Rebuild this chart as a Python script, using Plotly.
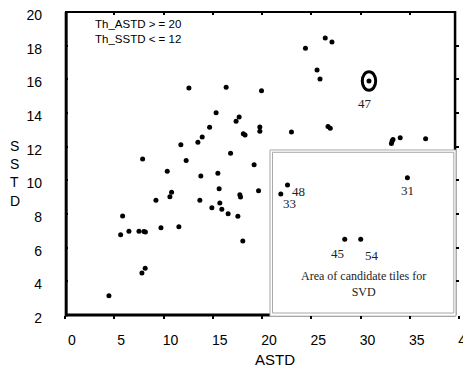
import plotly.graph_objects as go

# ---- data ----
astd = [12.58, 11.76, 7.88, 12.30, 26.42, 27.10, 24.41, 25.59, 25.89, 16.36,
        19.95, 15.34, 17.68, 17.37, 14.68, 13.93, 13.49, 18.10, 18.28, 19.78,
        19.78, 22.99, 16.81, 26.70, 26.93, 33.14, 33.21, 33.30, 34.03, 36.61,
        10.38, 10.82, 10.65, 9.23, 5.85, 5.65, 6.49, 7.51, 8.01, 8.16,
        9.74, 11.56, 8.14, 7.81, 4.46, 19.20, 13.79, 15.52, 15.65, 17.75,
        17.82, 19.65, 13.69, 15.72, 14.91, 15.92, 16.56, 17.55, 18.05]
sstd = [15.49, 12.12, 11.27, 11.18, 18.46, 18.22, 17.85, 16.55, 16.02, 15.53,
        15.32, 14.02, 13.76, 13.51, 13.15, 12.57, 12.26, 12.76, 12.70, 13.17,
        12.91, 12.87, 11.61, 13.20, 13.10, 12.19, 12.34, 12.42, 12.53, 12.47,
        10.54, 9.29, 9.03, 8.81, 7.88, 6.77, 6.97, 6.97, 6.96, 6.93,
        7.19, 7.24, 4.77, 4.49, 3.15, 10.93, 10.26, 10.42, 9.50, 9.15,
        9.01, 9.38, 8.81, 8.65, 8.37, 8.28, 8.02, 7.86, 6.40]

# labelled tiles
tile_ids = ["47", "48", "33", "31", "45", "54"]
tile_astd = [30.86, 22.59, 21.91, 34.76, 28.40, 30.02]
tile_sstd = [15.90, 9.72, 9.19, 10.16, 6.50, 6.50]
# label pixel offsets (dx, dy) relative to each point
tile_label_offset = [(-4, -22), (11, -6), (9, -10), (0, -12.5), (-7, -14.5), (11, -16)]

x_ticks = [0, 5, 10, 15, 20, 25, 30, 35, 40]
y_ticks = [2, 4, 6, 8, 10, 12, 14, 16, 18, 20]

SANS = "Arial, Liberation Sans, sans-serif"
SERIF = "Times New Roman, Liberation Serif, serif"

fig = go.Figure()
fig.add_trace(go.Scatter(x=astd, y=sstd, mode="markers",
                         marker=dict(color="black", size=5, symbol="circle"),
                         showlegend=False, hoverinfo="skip"))
fig.add_trace(go.Scatter(x=tile_astd, y=tile_sstd, mode="markers",
                         marker=dict(color="black", size=5, symbol="circle"),
                         showlegend=False, hoverinfo="skip"))
# empty trace that carries the mirrored tick axes (top / right)
fig.add_trace(go.Scatter(x=[], y=[], xaxis="x2", yaxis="y2", showlegend=False,
                         hoverinfo="skip"))

XR = 0.99  # paper position of right frame line

shapes = [
    # frame lines
    dict(type="line", xref="paper", yref="paper", x0=0.003, x1=0.003, y0=-0.005, y1=1.0,
         line=dict(color="black", width=3), layer="below"),
    dict(type="line", xref="paper", yref="paper", x0=0.0, x1=0.99, y0=0.0, y1=0.0,
         line=dict(color="black", width=3), layer="below"),
    dict(type="line", xref="paper", yref="paper", x0=0.0, x1=XR, y0=1.0, y1=1.0,
         line=dict(color="black", width=2), layer="below"),
    dict(type="line", xref="paper", yref="paper", x0=XR, x1=XR, y0=0.0, y1=1.003,
         line=dict(color="black", width=2.5), layer="below"),
    # candidate area box (double grey border, white fill)
    dict(type="rect", xref="paper", yref="paper", x0=0.5203, x1=0.9924, y0=-0.004, y1=0.5446,
         line=dict(color="#a8a8a8", width=1), fillcolor="white", layer="below"),
    dict(type="rect", xref="paper", yref="paper", x0=0.5266, x1=0.9868, y0=0.0066, y1=0.537,
         line=dict(color="#a8a8a8", width=1), layer="below"),
    # ellipse around tile 47
    dict(type="circle", xref="x", yref="y",
         x0=tile_astd[0] - 0.68, x1=tile_astd[0] + 0.68,
         y0=tile_sstd[0] - 0.55, y1=tile_sstd[0] + 0.55,
         line=dict(color="black", width=3), layer="above"),
]

annotations = []
for tid, tx, ty, (dx, dy) in zip(tile_ids, tile_astd, tile_sstd, tile_label_offset):
    annotations.append(dict(x=tx, y=ty, xref="x", yref="y", text=tid, showarrow=False,
                            xshift=dx, yshift=dy,
                            font=dict(family=SERIF, size=13, color="#222")))

annotations += [
    dict(x=0.071, y=0.935, xref="paper", yref="paper",
         text="Th_ASTD > = 20<br>Th_SSTD < = 12",
         showarrow=False, xanchor="left", yanchor="middle", align="left",
         font=dict(family=SANS, size=11.5, color="black")),
    dict(x=0.757, y=0.103, xref="paper", yref="paper",
         text="Area of candidate tiles for<br>SVD",
         showarrow=False, xanchor="center", yanchor="middle", align="center",
         font=dict(family=SERIF, size=12, color="#222")),
    # axis titles
    dict(x=0.534, y=-0.1485, xref="paper", yref="paper", text="ASTD",
         showarrow=False, xanchor="center", yanchor="middle",
         font=dict(family=SANS, size=15, color="black")),
    dict(x=-0.145, y=0.468, xref="paper", yref="paper", text="S<br>S<br>T<br>D",
         showarrow=False, xanchor="left", yanchor="middle", align="left",
         font=dict(family=SANS, size=14, color="black")),
]

# page body has an 8px default margin, so the figure is 8px smaller
fig.update_layout(
    width=463, height=363, autosize=False,
    margin=dict(l=57, r=12, t=4, b=56, pad=0, autoexpand=False),
    paper_bgcolor="white", plot_bgcolor="white",
    xaxis=dict(range=[0, 40], tickvals=x_ticks, ticktext=[str(v) for v in x_ticks],
               showline=False, showgrid=False, zeroline=False, automargin=False,
               ticks="outside", ticklen=3, tickwidth=2, tickcolor="black",
               ticklabelshift=7, ticklabelstandoff=9, ticklabeloverflow="allow",
               tickfont=dict(family=SANS, size=14, color="black")),
    yaxis=dict(range=[2, 20], tickvals=y_ticks, ticktext=[str(v) for v in y_ticks],
               showline=False, showgrid=False, zeroline=False, automargin=False,
               ticks="inside", ticklen=3, tickwidth=2, tickcolor="black",
               ticklabelshift=3, ticklabelstandoff=22, ticklabeloverflow="allow",
               tickfont=dict(family=SANS, size=14, color="black")),
    xaxis2=dict(range=[0, 40], overlaying="x", side="top", anchor="y",
                tickvals=x_ticks[1:-1], showticklabels=False, showline=False,
                showgrid=False, zeroline=False, automargin=False,
                ticks="inside", ticklen=3, tickwidth=2, tickcolor="black"),
    yaxis2=dict(range=[2, 20], overlaying="y", side="right", anchor="free", position=XR,
                tickvals=y_ticks[1:-1], showticklabels=False, showline=False,
                showgrid=False, zeroline=False, automargin=False,
                ticks="outside", ticklen=3, tickwidth=2, tickcolor="black"),
    shapes=shapes,
    annotations=annotations,
)

fig.write_html("out.html")
